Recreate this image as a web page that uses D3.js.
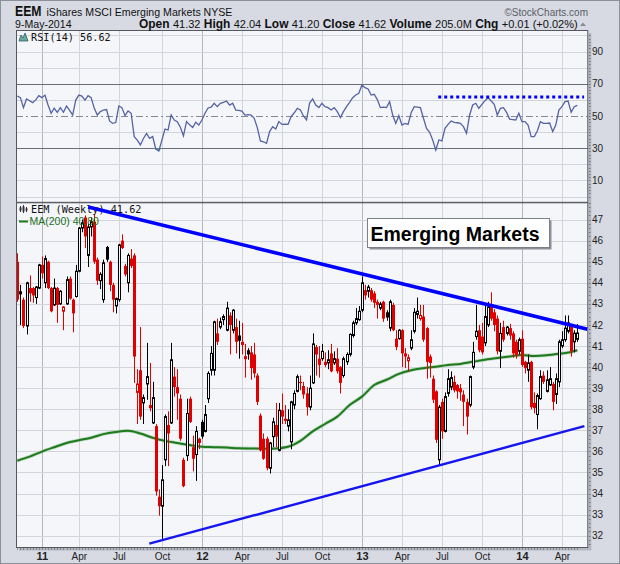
<!DOCTYPE html>
<html><head><meta charset="utf-8">
<script src="https://cdn.jsdelivr.net/npm/d3@7"></script>
<style>body{margin:0;background:#fff}svg{display:block}</style>
</head><body><svg id="c" width="620" height="564"></svg>
<script>
// ---------------- DATA ----------------
const weekStart = "2010-11-12"; // first weekly bar (Friday)
const opens = [
45.0,43.6,43.2,41.95,43.75,43.75,43.3,43.75,44.85,44.0,
45.0,43.75,42.95,43.75,43.0,42.65,43.0,44.2,43.2,43.35,
44.55,46.6,47.1,45.3,46.65,46.9,45.1,44.1,43.2,45.7,
45.0,43.9,42.9,43.2,46.0,44.8,44.0,45.15,45.3,38.8,
39.85,38.3,39.2,38.2,37.35,37.2,33.85,33.4,35.6,37.25,
37.35,39.55,39.05,38.5,35.6,35.8,38.5,36.2,35.85,36.6,
37.4,36.95,38.5,39.85,39.85,41.6,41.9,42.25,41.75,42.45,
41.75,41.9,41.5,41.2,40.4,40.8,40.7,40.6,39.6,37.7,
36.6,36.6,35.2,36.7,37.25,36.05,37.95,37.55,37.2,36.45,
38.2,38.85,39.3,39.1,38.75,38.1,39.25,40.95,40.4,40.4,
40.25,40.2,40.65,40.2,40.4,40.0,39.6,40.25,40.6,41.5,
42.1,42.25,42.7,43.65,43.6,43.65,43.5,43.1,42.8,43.1,
42.6,41.85,42.95,41.35,41.35,41.75,40.65,40.3,40.9,41.7,
42.5,42.3,42.4,41.85,40.5,39.45,38.85,35.6,38.35,36.95,
38.75,39.05,39.3,39.15,39.0,38.7,38.35,38.2,40.0,41.45,
41.75,41.45,41.15,42.0,42.95,42.6,42.3,40.75,41.9,41.6,
41.85,41.6,41.2,40.75,41.35,40.25,39.85,40.25,38.3,37.75,
38.5,39.6,38.85,39.15,39.2,38.7,39.3,41.0,41.3,41.7,
41.9,41.2,41.32];
const highs = [
45.4,43.9,43.3,44.05,44.35,43.8,43.85,44.9,45.25,45.3,
45.05,43.8,44.2,43.8,43.65,42.9,44.3,44.3,43.25,44.85,
46.65,47.0,47.2,46.8,47.1,47.25,45.2,44.5,45.1,45.75,
45.05,44.0,43.3,45.85,46.3,44.9,45.4,45.6,45.4,39.9,
41.9,38.7,41.15,40.2,39.3,37.3,34.2,35.35,37.75,37.9,
41.15,40.0,39.9,38.7,35.7,38.5,38.6,36.75,37.2,36.65,
37.5,38.2,39.8,41.0,42.2,42.3,42.35,42.5,43.1,42.6,
42.75,42.3,42.2,42.1,41.1,40.9,41.0,41.15,39.7,37.8,
36.85,36.7,36.45,37.6,38.3,38.3,38.75,38.2,38.0,38.4,
38.9,39.65,39.6,39.3,39.05,39.6,41.6,41.05,41.0,41.1,
40.7,40.8,41.1,40.75,40.9,40.05,40.5,40.7,41.6,42.2,
42.8,42.9,44.3,43.9,43.9,43.75,43.6,43.2,43.1,43.15,
42.7,43.2,43.05,41.75,41.8,41.8,40.9,40.6,41.75,42.8,
43.3,42.95,42.95,41.9,40.6,39.6,38.9,38.2,38.5,38.8,
39.9,39.8,39.6,39.2,39.2,38.9,38.5,39.6,41.2,42.95,
42.0,42.1,42.95,43.1,43.55,42.75,42.45,42.1,42.2,41.95,
42.05,41.7,41.3,41.4,41.75,40.3,40.6,40.3,38.8,38.75,
39.85,39.8,39.85,40.0,39.3,39.7,41.3,41.7,42.45,42.45,
42.05,41.75,42.04];
const lows = [
43.1,42.0,41.85,41.55,43.1,43.05,43.0,43.7,44.2,43.75,
43.7,42.6,42.9,42.1,42.95,41.75,42.95,43.2,41.65,43.3,
44.5,46.4,45.65,44.75,46.2,44.9,43.9,43.7,43.05,45.0,
43.6,42.6,42.55,43.1,45.6,44.3,43.55,44.7,39.25,37.3,
37.5,37.3,38.45,37.9,37.3,33.9,32.95,31.85,35.3,35.3,
37.3,38.6,37.5,36.5,34.3,35.55,37.35,35.05,34.6,36.1,
36.6,36.9,38.3,39.6,39.6,41.05,41.8,42.0,41.7,40.6,
41.6,40.65,40.4,40.6,39.5,40.35,39.4,39.5,38.2,36.0,
35.6,35.1,34.95,36.2,36.2,36.0,37.3,37.3,36.95,36.1,
38.0,38.8,38.9,38.5,37.7,37.95,39.2,39.6,39.5,40.3,
40.0,39.9,39.75,40.1,39.7,38.75,39.5,40.1,40.5,41.4,
42.0,42.2,42.6,43.2,43.3,43.1,42.8,42.3,42.7,42.15,
42.2,41.7,41.7,40.8,41.3,40.0,39.95,39.8,40.8,41.6,
42.3,42.2,41.2,39.45,39.5,38.3,36.4,35.35,36.6,36.9,
38.6,38.9,38.8,38.5,38.4,37.2,36.8,38.1,39.9,41.3,
40.7,40.6,41.0,41.9,42.2,41.7,40.6,39.95,41.2,41.5,
41.3,40.45,40.4,40.6,40.0,39.7,39.3,38.0,37.8,37.05,
38.45,39.2,38.8,39.1,37.95,38.25,39.05,40.9,41.2,41.6,
40.5,40.7,41.2];
const closes = [
43.2,43.45,41.95,44.0,43.5,43.4,43.8,44.85,44.45,45.15,
43.75,42.65,43.75,42.95,43.6,42.85,44.15,43.25,42.55,44.55,
46.6,46.85,46.2,46.65,46.9,45.0,44.1,44.4,44.95,45.1,
43.9,43.2,43.25,45.8,45.65,44.4,45.3,44.8,40.5,39.2,
37.65,38.55,39.55,38.05,38.55,34.1,33.4,34.65,37.65,36.85,
40.35,39.05,38.75,36.6,34.35,37.8,37.4,35.65,36.95,36.4,
36.7,37.75,39.7,40.65,42.15,41.2,42.15,42.4,42.8,42.0,
42.7,41.2,41.25,41.05,40.5,40.6,39.95,39.7,38.35,36.05,
35.65,35.2,36.4,37.4,36.7,37.95,37.65,37.45,37.5,38.35,
38.75,39.55,39.25,38.7,38.1,39.0,41.1,40.6,40.1,40.75,
40.1,40.35,39.8,40.4,39.8,39.25,40.4,40.6,41.55,42.1,
42.3,42.65,44.0,43.4,43.8,43.2,43.05,42.95,43.0,42.3,
42.35,43.1,41.75,40.95,41.75,40.65,40.5,40.45,41.3,42.6,
42.65,42.45,41.3,40.25,40.2,38.45,36.55,38.1,36.95,38.6,
39.45,39.5,38.9,38.85,38.8,38.35,37.65,39.55,40.7,41.7,
40.8,40.7,42.4,42.85,42.3,42.0,40.75,41.6,41.3,41.9,
41.5,40.65,40.55,41.3,40.1,39.95,40.2,38.1,38.05,38.65,
39.55,39.3,39.4,39.45,38.35,39.45,41.2,41.3,41.85,42.1,
40.75,41.61,41.62];
const rsiValues = [
62.4,61.4,55.2,60.6,59.5,58.3,60.0,62.6,61.4,63.0,
56.8,51.7,54.8,52.3,55.2,52.3,56.2,53.5,50.6,59.9,
63.0,62.4,59.9,62.6,61.4,55.0,50.6,52.7,53.7,54.0,
46.9,45.4,45.9,56.2,55.2,50.2,53.1,51.7,37.2,35.0,
32.0,36.0,39.2,36.1,37.2,29.5,28.3,35.0,41.9,41.3,
50.6,47.5,46.5,43.0,37.6,46.5,44.5,42.8,46.1,44.4,
47.5,51.7,55.0,55.5,57.9,55.8,57.9,58.5,59.3,56.8,
57.9,53.7,53.5,53.1,50.6,50.8,50.6,48.6,42.8,34.5,
34.0,33.0,40.3,43.4,41.9,46.5,44.8,44.9,44.8,49.6,
52.0,54.8,53.7,50.0,47.5,58.0,60.6,56.8,55.2,57.9,
55.8,55.2,53.7,55.2,52.7,49.0,52.7,55.8,58.5,61.4,
63.0,64.1,69.3,67.6,66.8,63.0,63.5,60.2,55.2,55.5,
55.2,58.9,50.6,45.4,50.2,44.4,45.4,44.8,52.0,55.8,
55.5,55.2,48.6,42.3,39.9,35.1,28.9,35.1,34.5,42.3,
44.8,46.9,46.1,45.8,45.4,43.4,39.2,50.6,56.8,57.9,
54.8,57.2,59.5,61.4,59.3,57.2,50.6,54.8,55.2,52.3,
48.1,47.8,47.5,51.7,46.5,46.5,44.4,37.2,37.2,40.7,
46.5,45.4,45.4,45.6,40.3,44.4,53.7,55.8,58.9,59.3,
52.3,55.8,56.62];
// 200-day moving average, read at sampled weeks
const maWeeks  = [0,4,8,12,16,20,24,28,32,36,40,44,48,52,56,60,64,68,72,76,80,84,88,92,96,100,104,108,112,116,120,124,128,132,136,140,144,148,152,156,160,164,168,172,176,180,182];
const maValues = [35.56,35.75,35.99,36.2,36.4,36.53,36.65,36.82,36.92,36.98,36.85,36.65,36.5,36.4,36.3,36.22,36.2,36.18,36.15,36.14,36.13,36.14,36.22,36.5,36.95,37.3,37.65,38.2,38.6,39.15,39.4,39.68,39.85,39.95,40.02,40.1,40.15,40.25,40.35,40.43,40.5,40.58,40.53,40.56,40.63,40.72,40.8];
// trendlines (week index, price)
const upperTrendWeeks = [23.05, 185.3], upperTrendValues = [47.6, 41.8];
const lowerTrendWeeks = [42.9, 184.3],  lowerTrendValues = [31.62, 37.2];
const rsiResistWeeks = [136.8, 184.2], rsiResistValue = 61.8;
const priceTicks = [32,33,34,35,36,37,38,39,40,41,42,43,44,45,46,47];
const rsiTicks = [90,70,50,30,10];
const tickMonths = ["2011-01","2011-04","2011-07","2011-10","2012-01","2012-04","2012-07","2012-10","2013-01","2013-04","2013-07","2013-10","2014-01","2014-04"];
const tickLabels = ["11","Apr","Jul","Oct","12","Apr","Jul","Oct","13","Apr","Jul","Oct","14","Apr"];
const headerItems = [["Open","41.32"],["High","42.04"],["Low","41.20"],["Close","41.62"],["Volume","205.0M"],["Chg","+0.01 (+0.02%)"]];

// ---------------- LAYOUT ----------------
const svg = d3.select("#c");
const L = 16, R = 588.3, rsiTop = 30, rsiBot = 202.3, mainTop = 202.3, mainBot = 547.5;
const n = closes.length;
const x = d3.scaleLinear().domain([-0.42, 185.57]).range([L, R]);
const y = d3.scaleLinear().domain([31.44, 47.82]).range([mainBot, mainTop]);
const yr = d3.scaleLinear().domain([-3.6, 103.4]).range([rsiBot, rsiTop]);
const start = d3.timeParse("%Y-%m-%d")(weekStart);
const tickIdx = tickMonths.map(m => Math.ceil(d3.timeDay.count(start, d3.timeParse("%Y-%m")(m)) / 7));
const isYear = tickLabels.map(t => /^\d+$/.test(t));
const FONT = "'Liberation Sans', Arial, sans-serif";
const MONO = "'DejaVu Sans Mono', monospace";

// background
svg.append("rect").attr("width", 620).attr("height", 564).attr("fill", "#d7dae3");
svg.append("rect").attr("x", 0.5).attr("y", 0.5).attr("width", 619).attr("height", 563)
  .attr("fill", "none").attr("stroke", "#8c9099");

const defs = svg.append("defs");
defs.append("clipPath").attr("id", "clipMain").append("rect")
  .attr("x", L).attr("y", mainTop).attr("width", R - L).attr("height", mainBot - mainTop);
defs.append("clipPath").attr("id", "clipRsi").append("rect")
  .attr("x", L).attr("y", rsiTop).attr("width", R - L).attr("height", rsiBot - rsiTop);

// panel shadow + fill
svg.append("rect").attr("x", L + 3).attr("y", rsiTop + 3).attr("width", R - L).attr("height", mainBot - rsiTop)
  .attr("fill", "#b3b7c1");
svg.append("rect").attr("x", L).attr("y", rsiTop).attr("width", R - L).attr("height", mainBot - rsiTop)
  .attr("fill", "#f5f6fa");

// vertical gridlines (both panels)
const grid = svg.append("g");
tickIdx.forEach((ti, k) => {
  const gx = Math.round(x(ti)) + 0.5;
  grid.append("line").attr("x1", gx).attr("x2", gx).attr("y1", rsiTop).attr("y2", mainBot)
    .attr("stroke", isYear[k] ? "#b4b6bd" : "#d3d5dc").attr("stroke-width", 1);
});
priceTicks.forEach(v => {
  const gy = Math.round(y(v)) + 0.5;
  grid.append("line").attr("x1", L).attr("x2", R).attr("y1", gy).attr("y2", gy)
    .attr("stroke", "#d3d5dc");
});
d3.range(0, 101, 10).forEach(v => {
  if (v === 30 || v === 50 || v === 70) return;
  const gy = Math.round(yr(v)) + 0.5;
  grid.append("line").attr("x1", L).attr("x2", R).attr("y1", gy).attr("y2", gy).attr("stroke", "#d3d5dc");
});

// ---------------- RSI PANEL ----------------
const rsiG = svg.append("g").attr("clip-path", "url(#clipRsi)");
[70, 30].forEach(v => {
  const gy = Math.round(yr(v)) + 0.5;
  rsiG.append("line").attr("x1", L).attr("x2", R).attr("y1", gy).attr("y2", gy)
    .attr("stroke", "#6b6e76").attr("stroke-width", 1.2);
});
{
  const gy = Math.round(yr(50)) + 0.5;
  rsiG.append("line").attr("x1", L).attr("x2", R).attr("y1", gy).attr("y2", gy)
    .attr("stroke", "#858891").attr("stroke-dasharray", "7,3,2,3");
}
rsiG.append("path").datum(rsiValues)
  .attr("d", d3.area().x((d, i) => x(i)).y0(yr(30)).y1(d => yr(Math.min(d, 30))))
  .attr("fill", "#5e9e8e");
rsiG.append("path").datum(rsiValues)
  .attr("d", d3.line().x((d, i) => x(i)).y(d => yr(d)))
  .attr("fill", "none").attr("stroke", "#5563a3").attr("stroke-width", 1.3);
rsiG.append("line")
  .attr("x1", x(rsiResistWeeks[0])).attr("x2", x(rsiResistWeeks[1]))
  .attr("y1", yr(rsiResistValue)).attr("y2", yr(rsiResistValue))
  .attr("stroke", "#0000ff").attr("stroke-width", 3).attr("stroke-dasharray", "3,3");

// ---------------- MAIN PANEL ----------------
const mg = svg.append("g").attr("clip-path", "url(#clipMain)");
const maPts = maWeeks.map((w, k) => [w, maValues[k]]);
const maLine = d3.line().x(d => x(d[0])).y(d => y(d[1])).curve(d3.curveMonotoneX);
mg.append("path").datum(maPts).attr("d", maLine)
  .attr("fill", "none").attr("stroke", "#9cc49c").attr("stroke-width", 3.6).attr("opacity", 0.6);
mg.append("path").datum(maPts).attr("d", maLine)
  .attr("fill", "none").attr("stroke", "#1d7a1d").attr("stroke-width", 2);

// candles
const cg = mg.append("g");
for (let i = 0; i < n; i++) {
  const prev = i > 0 ? closes[i - 1] : opens[i];
  const col = closes[i] < prev ? "#e00000" : "#000000";
  const cx = Math.round(x(i));
  cg.append("line").attr("x1", cx + 0.5).attr("x2", cx + 0.5)
    .attr("y1", y(highs[i])).attr("y2", y(lows[i])).attr("stroke", col).attr("stroke-width", 1);
  const top = y(Math.max(opens[i], closes[i])), bot = y(Math.min(opens[i], closes[i]));
  if (closes[i] > opens[i]) {
    cg.append("rect").attr("x", cx - 0.5).attr("y", top).attr("width", 2).attr("height", Math.max(bot - top, 1))
      .attr("fill", "#f5f6fa").attr("stroke", col).attr("stroke-width", 1);
  } else {
    cg.append("rect").attr("x", cx - 1).attr("y", top).attr("width", 3).attr("height", Math.max(bot - top, 1.2))
      .attr("fill", col);
  }
}

// legend (main)
const lg = svg.append("g");
[[20, 206, 212], [23, 205, 213], [26, 207, 212]].forEach(([ix, a, b]) => {
  lg.append("line").attr("x1", ix + 0.5).attr("x2", ix + 0.5).attr("y1", a).attr("y2", b).attr("stroke", "#333");
  lg.append("rect").attr("x", ix - 0.5).attr("y", a + 1.5).attr("width", 2).attr("height", b - a - 3).attr("fill", "#333");
});
lg.append("text").attr("x", 31).attr("y", 213).attr("font-family", MONO).attr("font-size", 10.2)
  .attr("fill", "#111").text("EEM (Weekly) 41.62");
lg.append("line").attr("x1", 19).attr("x2", 28).attr("y1", 221.5).attr("y2", 221.5)
  .attr("stroke", "#1d7a1d").attr("stroke-width", 2);
lg.append("text").attr("x", 29.5).attr("y", 225).attr("font-family", FONT).attr("font-size", 10.5)
  .attr("fill", "#1d6e1d").text("MA(200) 40.80");

// trendlines (drawn above legend, as in the reference)
const tg = svg.append("g").attr("clip-path", "url(#clipMain)");
tg.append("line")
  .attr("x1", x(upperTrendWeeks[0])).attr("y1", y(upperTrendValues[0]))
  .attr("x2", x(upperTrendWeeks[1])).attr("y2", y(upperTrendValues[1]))
  .attr("stroke", "#0000ff").attr("stroke-width", 3.6);
tg.append("line")
  .attr("x1", x(lowerTrendWeeks[0])).attr("y1", y(lowerTrendValues[0]))
  .attr("x2", x(lowerTrendWeeks[1])).attr("y2", y(lowerTrendValues[1]))
  .attr("stroke", "#1515f0").attr("stroke-width", 2.4);

// annotation box
const ann = svg.append("g");
ann.append("rect").attr("x", 369.5).attr("y", 220.5).attr("width", 182).attr("height", 29).attr("fill", "#8e9097");
ann.append("rect").attr("x", 367.5).attr("y", 218.5).attr("width", 182).attr("height", 29)
  .attr("fill", "#ffffff").attr("stroke", "#7d8088");
ann.append("text").attr("x", 370.5).attr("y", 241).attr("font-family", FONT).attr("font-weight", "bold")
  .attr("font-size", 20).attr("textLength", 169).attr("lengthAdjust", "spacingAndGlyphs")
  .attr("fill", "#000").text("Emerging Markets");

// panel borders
[[rsiTop, rsiBot], [mainTop, mainBot]].forEach(([a, b]) => {
  svg.append("rect").attr("x", L + 0.5).attr("y", a + 0.5).attr("width", R - L - 1).attr("height", b - a - 0.5)
    .attr("fill", "none").attr("stroke", "#55585f").attr("stroke-width", 1);
});

// RSI legend
const rl = svg.append("g");
rl.append("path").attr("d", "M19,41 L21,35 L23,38 L25,33 L28,41 Z").attr("fill", "#6aa89a").attr("stroke", "#2f5f70").attr("stroke-width", 0.8);
rl.append("text").attr("x", 31).attr("y", 41).attr("font-family", MONO).attr("font-size", 10.2)
  .attr("fill", "#111").text("RSI(14) 56.62");

// ---------------- AXES ----------------
const ax = svg.append("g").attr("font-family", FONT).attr("font-size", 10).attr("fill", "#222");
priceTicks.forEach(v => {
  ax.append("text").attr("x", 592).attr("y", y(v)).attr("dy", "0.36em").text(v);
});
rsiTicks.forEach(v => {
  ax.append("text").attr("x", 592).attr("y", yr(v)).attr("dy", "0.36em").text(v);
});
d3.range(31.6, 47.81, 0.2).forEach(v => {
  ax.append("rect").attr("x", R + 1).attr("y", Math.round(y(v))).attr("width", 1).attr("height", 1).attr("fill", "#555");
});
d3.range(0, 101, 2).forEach(v => {
  ax.append("rect").attr("x", R + 1).attr("y", Math.round(yr(v))).attr("width", 1).attr("height", 1).attr("fill", "#555");
});
d3.range(0, n).forEach(i => {
  ax.append("rect").attr("x", Math.round(x(i))).attr("y", mainBot + 1).attr("width", 1).attr("height", 1).attr("fill", "#555");
});
tickIdx.forEach((ti, k) => {
  ax.append("text").attr("x", x(ti) + 0.5).attr("y", 560).attr("text-anchor", "middle")
    .attr("font-weight", isYear[k] ? "bold" : "normal").attr("font-size", isYear[k] ? 11 : 10)
    .text(tickLabels[k]);
});

// ---------------- HEADER ----------------
const hd = svg.append("g").attr("font-family", FONT).attr("fill", "#111");
hd.append("text").attr("x", 15).attr("y", 15.5).attr("font-weight", "bold").attr("font-size", 14)
  .attr("textLength", 26.5).attr("lengthAdjust", "spacingAndGlyphs").text("EEM");
hd.append("text").attr("x", 46.5).attr("y", 15.5).attr("font-size", 10.6).text("iShares MSCI Emerging Markets");
hd.append("text").attr("x", 203.5).attr("y", 15.5).attr("font-size", 10.6).text("NYSE");
hd.append("text").attr("x", 588).attr("y", 15.5).attr("font-size", 10).attr("text-anchor", "end")
  .attr("fill", "#5a5d66").text("\u00A9StockCharts.com");
hd.append("text").attr("x", 15).attr("y", 27.5).attr("font-size", 10.6).text("9-May-2014");
const q = hd.append("text").attr("x", 139).attr("y", 27.5);
headerItems.forEach(([lab, val], k) => {
  q.append("tspan").attr("class", "lab").attr("font-weight", "bold").attr("font-size", 11.5).text((k ? " " : "") + lab + " ");
  q.append("tspan").attr("class", "val").attr("font-size", 10.6).text(val);
});
{
  const w = q.node().getComputedTextLength();
  const s = 439 / w;
  q.selectAll("tspan.lab").attr("font-size", 11.5 * s);
  q.selectAll("tspan.val").attr("font-size", 10.6 * s);
}
hd.append("path").attr("d", "M580,26 L583,22.5 L586,26 Z").attr("fill", "#8a8d96");
</script>
</body></html>
